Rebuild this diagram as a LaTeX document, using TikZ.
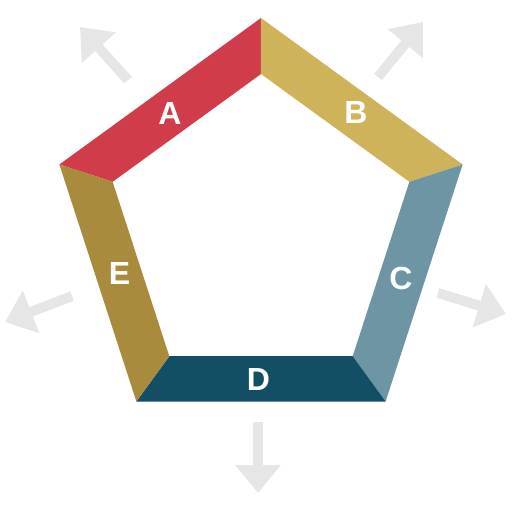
\documentclass[tikz,border=0pt]{standalone}
\usepackage{fontspec}
\setmainfont{Liberation Sans}
\usetikzlibrary{arrows.meta}

\definecolor{bandA}{HTML}{D13C4B}
\definecolor{bandB}{HTML}{CFB35B}
\definecolor{bandC}{HTML}{6E95A4}
\definecolor{bandD}{HTML}{124E64}
\definecolor{bandE}{HTML}{A98B3D}
\definecolor{arrowgrey}{HTML}{E6E6E6}

\tikzset{
    bandlabel/.style = {text = white, font = \fontsize{32}{32}\selectfont\bfseries, inner sep = 0pt},
    outarrow/.style  = {arrowgrey, line width = 10pt, -{Triangle[length = 28pt, width = 44pt]}},
}

\begin{document}
\begin{tikzpicture}[x = 1pt, y = 1pt]

    \useasboundingbox (-261,-282) rectangle (251,230);
    \coordinate (O) at (0,0);

    % the five bands of the frame
    \fill[bandA] (90:212)  -- (162:212) -- (162:156) -- (90:156)  -- cycle;
    \fill[bandB] (18:212)  -- (90:212)  -- (90:156)  -- (18:156)  -- cycle;
    \fill[bandC] (-54:212) -- (18:212)  -- (18:156)  -- (-54:156) -- cycle;
    \fill[bandD] (234:212) -- (306:212) -- (306:156) -- (234:156) -- cycle;
    \fill[bandE] (162:212) -- (234:212) -- (234:156) -- (162:156) -- cycle;

    \node (lA) [bandlabel] at (128:148) {A};
    \node (lB) [bandlabel] at (51:151)  {B};
    \node (lC) [bandlabel] at (-19:148) {C};
    \node (lD) [bandlabel] at (-91:150) {D};
    \node (lE) [bandlabel] at (197:148) {E};

    % arrows pointing out of the frame
    \coordinate (A0) at (-133,150);  \coordinate (A1) at (-181,203);
    \coordinate (B0) at (117,153);   \coordinate (B1) at (162,208);
    \coordinate (C0) at (177,-63);   \coordinate (C1) at (245,-84);
    \coordinate (D0) at (-3,-192);   \coordinate (D1) at (-3,-263);
    \coordinate (E0) at (-189,-66);  \coordinate (E1) at (-256,-92);

    \draw[outarrow] (A0) -- (A1);
    \draw[outarrow] (B0) -- (B1);
    \draw[outarrow] (C0) -- (C1);
    \draw[outarrow] (D0) -- (D1);
    \draw[outarrow] (E0) -- (E1);

\end{tikzpicture}
\end{document}
